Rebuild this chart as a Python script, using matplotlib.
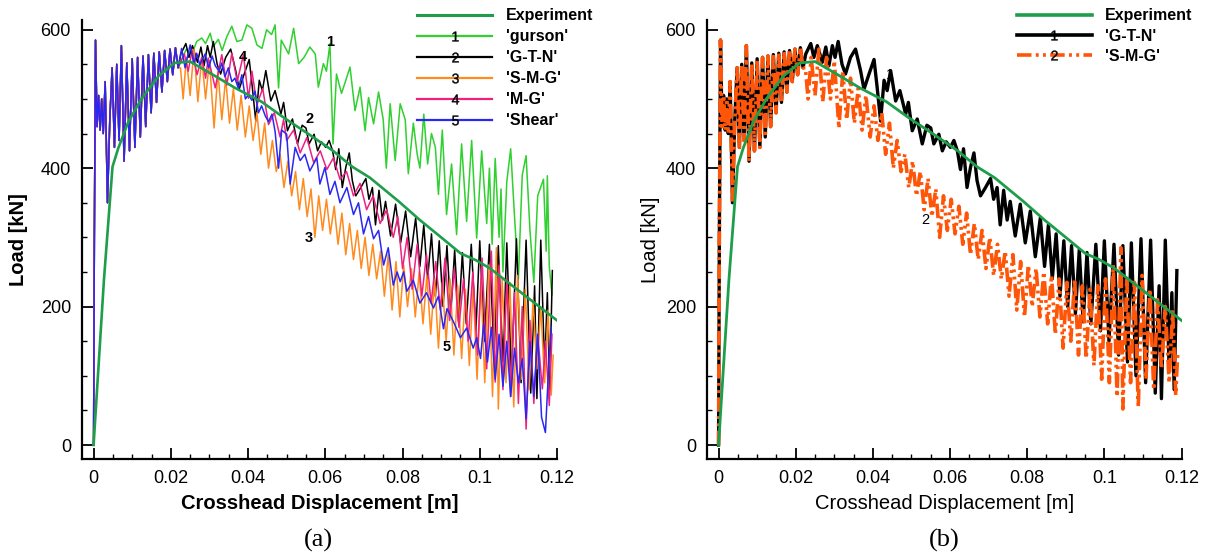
import matplotlib
matplotlib.use('Agg')
import matplotlib.pyplot as plt
from matplotlib.lines import Line2D
from matplotlib.ticker import MultipleLocator, FixedLocator, FixedFormatter

plt.rcParams['font.family'] = ['Liberation Sans', 'DejaVu Sans']
plt.rcParams['mathtext.default'] = 'regular'

# ---------------- data ----------------
exp_x = [0, 0.0027, 0.0049, 0.0064, 0.009, 0.0125, 0.0168, 0.021, 0.025, 0.0315, 0.0366,
         0.0435, 0.0495, 0.056, 0.062, 0.067, 0.0716, 0.079, 0.0845, 0.09, 0.095, 0.099,
         0.1027, 0.108, 0.114, 0.12]
exp_y = [0, 240, 402, 429, 467, 501, 533, 552, 554, 533, 516, 496, 472, 448, 425, 402, 386,
         352, 325, 300, 277, 267, 255, 232, 206, 180]

# common start of every simulated curve (they coincide until ~0.022 m)
early_x = [0, 0.0002, 0.0005, 0.0009, 0.0013, 0.0017, 0.0021, 0.0025, 0.0030, 0.0036, 0.0042,
           0.0048, 0.0054, 0.0060, 0.0066, 0.0072, 0.0079, 0.0086, 0.0093, 0.0100, 0.0107,
           0.0114, 0.0121, 0.0128, 0.0135, 0.0142, 0.0149, 0.0156, 0.0163, 0.0170, 0.0177,
           0.0184, 0.0191, 0.0198, 0.0205, 0.0212, 0.0219]
early_y = [0, 300, 585, 460, 505, 455, 500, 450, 525, 350, 470, 545, 430, 550, 440, 577, 410,
           552, 425, 558, 430, 560, 445, 562, 460, 564, 480, 566, 495, 568, 510, 570, 525, 572,
           535, 574, 545]

gurson_x = [0.0225, 0.024, 0.0254, 0.0267, 0.028, 0.029, 0.0302, 0.031, 0.0323, 0.0333, 0.0345,
            0.0358, 0.0371, 0.0384, 0.0397, 0.041, 0.0423, 0.0436, 0.0448, 0.0461, 0.047,
            0.0479, 0.0486, 0.0505, 0.0518, 0.0531, 0.0545, 0.056, 0.0574, 0.0582, 0.0595,
            0.0603, 0.0612, 0.062, 0.0629, 0.0642, 0.0652, 0.0664, 0.0677, 0.069, 0.0703,
            0.0712, 0.0725, 0.0738, 0.075, 0.0758, 0.0768, 0.0781, 0.0794, 0.0807, 0.0815,
            0.0828, 0.0838, 0.0845, 0.0855, 0.0865, 0.0875, 0.0885, 0.0893, 0.0903, 0.0914,
            0.0927, 0.094, 0.0953, 0.0966, 0.0979, 0.0992, 0.1005, 0.1018, 0.1025, 0.1032,
            0.104, 0.105, 0.1055, 0.106, 0.107, 0.108, 0.109, 0.110, 0.111, 0.112, 0.113,
            0.114, 0.115, 0.1165, 0.1172, 0.1175, 0.118, 0.1187]
gurson_y = [552, 572, 564, 583, 588, 580, 595, 576, 586, 570, 590, 605, 583, 585, 607, 602, 578,
            573, 600, 593, 607, 516, 585, 565, 602, 551, 560, 575, 565, 517, 551, 540, 580, 435,
            536, 508, 525, 546, 483, 517, 454, 502, 464, 510, 470, 400, 493, 411, 493, 470, 392,
            465, 420, 400, 478, 406, 450, 430, 362, 455, 333, 406, 304, 435, 323, 440, 299, 425,
            320, 400, 290, 414, 300, 370, 250, 380, 428, 330, 240, 390, 418, 310, 235, 360, 384,
            280, 389, 258, 217]

gtn_x = [0.0226, 0.0239, 0.0247, 0.0256, 0.0269, 0.0278, 0.0286, 0.0295, 0.0302, 0.0310, 0.032,
         0.0329, 0.0342, 0.0355, 0.0368, 0.0377, 0.039, 0.0403, 0.0411, 0.042, 0.0429, 0.0437,
         0.0446, 0.0459, 0.047, 0.0485, 0.0492, 0.0502, 0.0515, 0.0528, 0.054, 0.055, 0.0558,
         0.0571, 0.058, 0.059, 0.0601, 0.061, 0.0619, 0.0627, 0.0635, 0.0644, 0.0653, 0.0662,
         0.067, 0.0679, 0.0692, 0.0705, 0.0713, 0.0722, 0.073, 0.0739, 0.0748, 0.0756, 0.0769,
         0.0782, 0.0795, 0.0808, 0.0821, 0.0834, 0.0845, 0.0855, 0.0865, 0.0875, 0.0885,
         0.0895, 0.0905, 0.0915, 0.0925, 0.0935, 0.0945, 0.0955, 0.0965, 0.0978, 0.099, 0.1,
         0.1012, 0.1025, 0.1037, 0.1048, 0.106, 0.107, 0.1082, 0.1095, 0.1107, 0.112, 0.1132,
         0.1142, 0.1148, 0.1158, 0.1168, 0.1175, 0.1181, 0.1188]
gtn_y = [565, 580, 560, 577, 553, 575, 548, 577, 560, 583, 550, 536, 560, 572, 541, 514, 536,
         557, 517, 468, 527, 512, 541, 497, 512, 478, 495, 454, 471, 435, 462, 458, 435, 449,
         425, 438, 430, 440, 425, 398, 428, 372, 401, 422, 382, 360, 372, 385, 355, 372, 318,
         368, 325, 352, 302, 348, 292, 338, 272, 328, 258, 318, 240, 305, 215, 295, 200, 288,
         190, 282, 178, 278, 175, 290, 165, 295, 150, 290, 130, 288, 120, 292, 100, 298, 90,
         296, 75, 230, 67, 296, 110, 220, 80, 252]

smg_x = [0.0225, 0.0232, 0.024, 0.025, 0.026, 0.027, 0.028, 0.029, 0.030, 0.0312, 0.0322,
         0.0332, 0.0342, 0.0352, 0.0362, 0.0372, 0.0382, 0.0393, 0.0403, 0.0413, 0.0423,
         0.0433, 0.0443, 0.0453, 0.0463, 0.0473, 0.0483, 0.0493, 0.0503, 0.0513, 0.0523,
         0.0533, 0.0543, 0.0553, 0.0563, 0.0573, 0.0583, 0.0593, 0.0603, 0.0613, 0.0623,
         0.0633, 0.0643, 0.0653, 0.0663, 0.0673, 0.0683, 0.0693, 0.0703, 0.0713, 0.0723,
         0.0733, 0.0743, 0.0753, 0.0763, 0.0773, 0.0783, 0.0793, 0.0803, 0.0813, 0.0823,
         0.0833, 0.0843, 0.0853, 0.0863, 0.0873, 0.0883, 0.0893, 0.0903, 0.0913, 0.0923,
         0.0933, 0.0943, 0.0953, 0.0963, 0.0973, 0.0983, 0.0993, 0.1003, 0.1013, 0.1023,
         0.1033, 0.1043, 0.1048, 0.1058, 0.1068, 0.1078, 0.1088, 0.1098, 0.1108, 0.1118,
         0.1128, 0.1138, 0.1148, 0.1158, 0.1168, 0.1177, 0.1185, 0.119]
smg_y = [545, 500, 560, 505, 572, 496, 560, 500, 555, 458, 540, 470, 530, 465, 515, 455, 505,
         445, 490, 440, 480, 420, 465, 400, 440, 395, 420, 372, 410, 360, 395, 340, 385, 330,
         370, 300, 360, 310, 355, 305, 345, 290, 335, 275, 320, 268, 310, 255, 300, 245, 290,
         240, 280, 215, 275, 195, 265, 185, 260, 200, 255, 185, 250, 175, 245, 160, 240, 140,
         235, 150, 240, 130, 230, 125, 225, 115, 230, 95, 240, 90, 260, 70, 285, 52, 240, 90,
         235, 55, 245, 95, 225, 80, 210, 110, 200, 90, 195, 72, 130]

mg_x = [0.0222, 0.0235, 0.0245, 0.0255, 0.0268, 0.028, 0.029, 0.0297, 0.0315, 0.0332, 0.0345,
        0.0358, 0.0372, 0.0388, 0.0401, 0.041, 0.0423, 0.0438, 0.0453, 0.0468, 0.0483, 0.0492,
        0.05, 0.0518, 0.0535, 0.0552, 0.057, 0.0587, 0.0604, 0.0621, 0.0638, 0.0655, 0.0673,
        0.069, 0.0707, 0.0724, 0.0742, 0.0759, 0.0776, 0.0788, 0.08, 0.0812, 0.0825, 0.0838,
        0.085, 0.0862, 0.0874, 0.0886, 0.0898, 0.091, 0.0922, 0.0934, 0.0946, 0.0958, 0.097,
        0.0982, 0.0994, 0.1006, 0.1018, 0.103, 0.104, 0.105, 0.106, 0.107, 0.108, 0.109,
        0.110, 0.111, 0.112, 0.113, 0.114, 0.115, 0.1162, 0.117, 0.118, 0.1187]
mg_y = [550, 565, 540, 570, 535, 560, 530, 559, 516, 564, 520, 566, 525, 564, 501, 540, 492,
        515, 463, 480, 445, 470, 440, 455, 422, 444, 408, 425, 398, 415, 384, 395, 360, 378,
        340, 360, 320, 340, 300, 330, 255, 300, 225, 290, 215, 275, 205, 265, 195, 270, 180,
        255, 170, 240, 150, 250, 130, 270, 110, 280, 91, 260, 80, 240, 70, 220, 60, 200, 23,
        180, 60, 160, 81, 150, 57, 160]

shear_x = [0.0228, 0.0237, 0.025, 0.026, 0.0267, 0.0275, 0.0289, 0.0298, 0.0307, 0.0315,
           0.0325, 0.0332, 0.034, 0.0349, 0.0358, 0.0366, 0.0375, 0.0384, 0.0393, 0.0401,
           0.041, 0.0418, 0.0427, 0.0435, 0.0445, 0.0453, 0.0462, 0.047, 0.0479, 0.0487, 0.05,
           0.0509, 0.0522, 0.0535, 0.0547, 0.056, 0.0578, 0.0586, 0.0599, 0.0612, 0.0625,
           0.0638, 0.0656, 0.0673, 0.0686, 0.0699, 0.0712, 0.0725, 0.0738, 0.0751, 0.0763,
           0.0776, 0.0786, 0.0794, 0.0803, 0.0811, 0.0828, 0.0845, 0.0862, 0.088, 0.0893,
           0.0906, 0.0915, 0.0932, 0.095, 0.0966, 0.0983, 0.0992, 0.1002, 0.101, 0.102, 0.103,
           0.104, 0.105, 0.106, 0.107, 0.108, 0.109, 0.110, 0.111, 0.112, 0.113, 0.114, 0.115,
           0.116, 0.117, 0.118, 0.1185]
shear_y = [573, 545, 578, 550, 566, 549, 565, 545, 562, 548, 540, 552, 532, 545, 525, 530, 515,
           535, 500, 506, 498, 511, 480, 490, 475, 467, 478, 453, 400, 455, 449, 377, 430, 411,
           420, 396, 415, 377, 401, 362, 381, 350, 372, 333, 350, 305, 330, 298, 310, 260, 285,
           231, 250, 236, 250, 222, 238, 205, 220, 198, 215, 168, 197, 178, 155, 169, 140, 155,
           125, 175, 120, 170, 95, 160, 85, 150, 70, 140, 90, 125, 38, 150, 70, 160, 40, 18,
           130, 170]

xtick_vals = [0, 0.02, 0.04, 0.06, 0.08, 0.1, 0.12]
xtick_labels = ['0', '0.02', '0.04', '0.06', '0.08', '0.1', '0.12']
ytick_vals = [0, 200, 400, 600]
ytick_labels = ['0', '200', '400', '600']

labels_a = ['Experiment', "'gurson'", "'G-T-N'", "'S-M-G'", "'M-G'", "'Shear'"]
labels_b = ['Experiment', "'G-T-N'", "'S-M-G'"]

# ---------------- styles ----------------
C_EXP = '#1E9E4A'
C_GURSON = '#2FD02F'
C_GTN = '#000000'
C_SMG_A = '#FF8A1E'
C_MG = '#EE2080'
C_SHEAR = '#2828F2'
C_SMG_B = '#FF5508'
SMG_DASH = (0, (4.0, 1.2, 0.8, 1.2, 0.8, 1.2))


def full(tail_x, tail_y):
    return early_x + tail_x, early_y + tail_y


fig = plt.figure(figsize=(12.07, 5.58), dpi=100)
ax_a = fig.add_axes([82 / 1207, 99.5 / 558, 475 / 1207, 438.2 / 558])
ax_b = fig.add_axes([707 / 1207, 99.5 / 558, 474.5 / 1207, 438.2 / 558])


def style(ax, bold_labels, ylab_x):
    ax.set_xlim(-0.003, 0.12)
    ax.set_ylim(-19.5, 613.6)
    for s in ['top', 'right']:
        ax.spines[s].set_visible(False)
    for s in ['left', 'bottom']:
        ax.spines[s].set_linewidth(1.6)
    ax.xaxis.set_major_locator(FixedLocator(xtick_vals))
    ax.xaxis.set_major_formatter(FixedFormatter(xtick_labels))
    ax.yaxis.set_major_locator(FixedLocator(ytick_vals))
    ax.yaxis.set_major_formatter(FixedFormatter(ytick_labels))
    ax.xaxis.set_minor_locator(MultipleLocator(0.005))
    ax.yaxis.set_minor_locator(MultipleLocator(50))
    ax.tick_params(which='major', direction='in', length=8, width=1.3, labelsize=13, pad=8)
    ax.tick_params(which='minor', direction='in', length=3.5, width=1.0)
    w = 'bold' if bold_labels else 'normal'
    ax.set_xlabel('Crosshead Displacement [m]', fontsize=14.5, fontweight=w)
    ax.set_ylabel('Load [kN]', fontsize=14.5, fontweight=w)
    ax.xaxis.set_label_coords(0.5, -0.082)
    ax.yaxis.set_label_coords(ylab_x, 0.5)


# ---------------- panel (a) ----------------
gx, gy = full(gurson_x, gurson_y)
tx, ty = full(gtn_x, gtn_y)
sx, sy = full(smg_x, smg_y)
mx, my = full(mg_x, mg_y)
hx, hy = full(shear_x, shear_y)

ax_a.plot(gx, gy, color=C_GURSON, lw=1.1)
ax_a.plot(tx, ty, color=C_GTN, lw=1.1)
ax_a.plot(sx, sy, color=C_SMG_A, lw=1.1)
ax_a.plot(mx, my, color=C_MG, lw=1.1)
ax_a.plot(hx, hy, color=C_SHEAR, lw=1.1)
ax_a.plot(exp_x, exp_y, color=C_EXP, lw=1.9)

for t, x, y in [('1', 0.0612, 582), ('2', 0.056, 471), ('3', 0.0558, 299),
                ('4', 0.0387, 561), ('5', 0.0914, 142)]:
    ax_a.text(x, y, t, fontsize=10.5, fontweight='bold', ha='center', va='center', color='black')

style(ax_a, True, -0.113)

handles_a = [Line2D([], [], color=C_EXP, lw=2.2)]
for i, c in enumerate([C_GURSON, C_GTN, C_SMG_A, C_MG, C_SHEAR], start=1):
    handles_a.append(Line2D([], [], color=c, lw=1.6, marker='$%d$' % i, markersize=7,
                            markerfacecolor='black', markeredgecolor='black', markeredgewidth=0.3))
ax_a.legend(handles_a, labels_a, loc='upper left', bbox_to_anchor=(417 / 1207, 1 - 8.4 / 558),
            bbox_transform=fig.transFigure, frameon=False, handlelength=4.7, handletextpad=0.85,
            labelspacing=0.375, borderpad=0, borderaxespad=0, numpoints=1,
            prop={'weight': 'bold', 'size': 11.5})

# ---------------- panel (b) ----------------
ax_b.plot(tx, ty, color=C_GTN, lw=2.4)
ax_b.plot(sx, sy, color=C_SMG_B, lw=2.6, linestyle=SMG_DASH)
ax_b.plot(exp_x, exp_y, color=C_EXP, lw=2.0)
for t, x, y in [('1', 0.0443, 534), ('2', 0.0535, 325)]:
    ax_b.text(x, y, t, fontsize=10.5, ha='center', va='center', color='black')

style(ax_b, False, -0.1)

handles_b = [Line2D([], [], color=C_EXP, lw=2.6),
             Line2D([], [], color=C_GTN, lw=2.6, marker='$1$', markersize=7,
                    markerfacecolor='black', markeredgecolor='black', markeredgewidth=0.3),
             Line2D([], [], color=C_SMG_B, lw=2.6, linestyle=SMG_DASH, marker='$2$', markersize=7,
                    markerfacecolor='black', markeredgecolor='black', markeredgewidth=0.3)]
ax_b.legend(handles_b, labels_b, loc='upper left', bbox_to_anchor=(1016.7 / 1207, 1 - 8.4 / 558),
            bbox_transform=fig.transFigure, frameon=False, handlelength=4.7, handletextpad=0.85,
            labelspacing=0.33, borderpad=0, borderaxespad=0, numpoints=1,
            prop={'weight': 'bold', 'size': 11.5})

fig.text(318 / 1207, 1 - 540 / 558, '(a)', ha='center', va='center', fontsize=19,
         family=['Liberation Serif', 'DejaVu Serif'])
fig.text(944 / 1207, 1 - 540 / 558, '(b)', ha='center', va='center', fontsize=19,
         family=['Liberation Serif', 'DejaVu Serif'])

fig.savefig('out.png', dpi=100)
